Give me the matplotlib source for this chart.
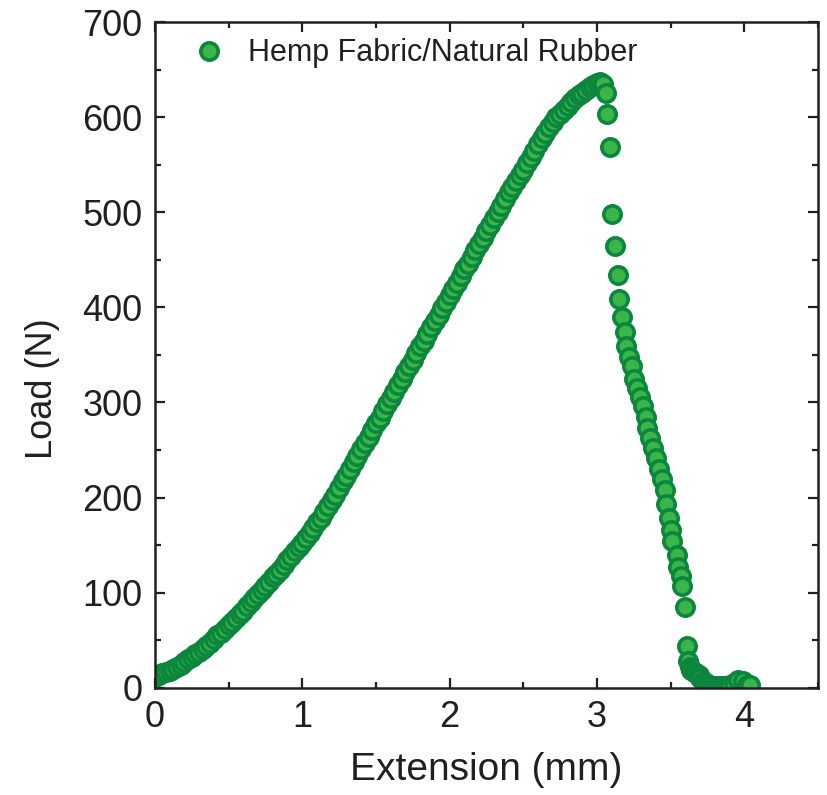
import numpy as np
import matplotlib.pyplot as plt
from matplotlib.ticker import MultipleLocator

plt.rcParams['font.family'] = ['Liberation Sans', 'DejaVu Sans']

# loading branch up to the peak load
ext_rise = [0.000, 0.025, 0.050, 0.075, 0.100, 0.125, 0.150, 0.175, 0.200, 0.225,
            0.250, 0.275, 0.300, 0.325, 0.350, 0.375, 0.400, 0.425, 0.450, 0.475,
            0.500, 0.525, 0.550, 0.575, 0.600, 0.625, 0.650, 0.675, 0.700, 0.725,
            0.750, 0.775, 0.800, 0.825, 0.850, 0.875, 0.900, 0.925, 0.950, 0.975,
            1.000, 1.025, 1.050, 1.075, 1.100, 1.125, 1.150, 1.175, 1.200, 1.225,
            1.250, 1.275, 1.300, 1.325, 1.350, 1.375, 1.400, 1.425, 1.450, 1.475,
            1.500, 1.525, 1.550, 1.575, 1.600, 1.625, 1.650, 1.675, 1.700, 1.725,
            1.750, 1.775, 1.800, 1.825, 1.850, 1.875, 1.900, 1.925, 1.950, 1.975,
            2.000, 2.025, 2.050, 2.075, 2.100, 2.125, 2.150, 2.175, 2.200, 2.225,
            2.250, 2.275, 2.300, 2.325, 2.350, 2.375, 2.400, 2.425, 2.450, 2.475,
            2.500, 2.525, 2.550, 2.575, 2.600, 2.625, 2.650, 2.675, 2.700, 2.725,
            2.750, 2.775, 2.800, 2.825, 2.850, 2.875, 2.900, 2.925, 2.950, 2.975,
            3.000, 3.020, 3.040]
load_rise = [11, 13, 15, 17, 18, 20, 22, 24, 27, 30,
             32, 35, 38, 41, 44, 47, 51, 55, 58, 62,
             66, 69, 73, 77, 81, 86, 90, 94, 99, 103,
             107, 111, 116, 120, 124, 129, 134, 139, 144, 148,
             152, 157, 163, 168, 174, 179, 185, 191, 197, 203,
             210, 217, 223, 230, 237, 244, 251, 257, 264, 271,
             278, 284, 291, 298, 305, 311, 318, 325, 332, 338,
             345, 352, 359, 365, 372, 379, 386, 392, 399, 406,
             413, 419, 426, 433, 440, 446, 453, 460, 467, 473,
             480, 487, 494, 500, 507, 514, 521, 527, 533, 539,
             545, 552, 558, 565, 572, 578, 584, 590, 595, 600,
             604, 608, 612, 616, 620, 623, 626, 629, 632, 634,
             636, 637, 635]

# failure branch after the peak
ext_fall = [3.06, 3.07, 3.09, 3.10, 3.12, 3.14, 3.15, 3.17, 3.19, 3.20,
            3.22, 3.24, 3.25, 3.27, 3.29, 3.31, 3.33, 3.34, 3.36, 3.38,
            3.40, 3.42, 3.44, 3.46, 3.47, 3.49, 3.50, 3.51, 3.54, 3.55,
            3.57, 3.58, 3.60, 3.61, 3.62, 3.63, 3.64, 3.66, 3.67, 3.69,
            3.70, 3.72, 3.74, 3.76, 3.78, 3.80, 3.82, 3.84, 3.86, 3.88,
            3.90, 3.93, 3.96, 3.99, 4.02, 4.04]
load_fall = [626, 604, 569, 498, 465, 434, 409, 390, 374, 359,
             348, 338, 325, 315, 306, 296, 285, 273, 263, 252,
             242, 230, 219, 208, 193, 178, 166, 154, 140, 127,
             117, 107, 85, 44, 28, 22, 19, 17, 15, 13,
             10, 7, 5, 3, 2, 2, 2, 2, 2, 2,
             3, 5, 8, 7, 3, 3]

extension = np.array(ext_rise + ext_fall)
load = np.array(load_rise + load_fall)

fig = plt.figure(figsize=(8.28, 7.95), dpi=100)
ax = fig.add_axes([0.187, 0.135, 0.801, 0.837])

ax.plot(extension, load, linestyle='none', marker='o', markersize=12.5,
        markerfacecolor='#3bb54a', markeredgecolor='#0a873c', markeredgewidth=2.6,
        label='Hemp Fabric/Natural Rubber')

ax.set_xlim(0, 4.5)
ax.set_ylim(0, 700)
ax.xaxis.set_major_locator(MultipleLocator(1))
ax.xaxis.set_minor_locator(MultipleLocator(0.5))
ax.yaxis.set_major_locator(MultipleLocator(100))
ax.yaxis.set_minor_locator(MultipleLocator(50))

ax.tick_params(which='both', direction='in', top=True, right=True, width=1.6,
               colors='#231f20')
ax.tick_params(which='major', length=7, labelsize=26, pad=9)
ax.tick_params(which='minor', length=4)
for sp in ax.spines.values():
    sp.set_linewidth(1.8)
    sp.set_color('#231f20')

ax.set_xlabel('Extension (mm)', fontsize=28, color='#231f20', labelpad=12)
ax.set_ylabel('Load (N)', fontsize=26, color='#231f20')
ax.yaxis.set_label_coords(-0.143, 0.45)

ax.legend(loc='upper left', bbox_to_anchor=(0.003, 1.008), frameon=False,
          fontsize=22, handletextpad=0.3, borderaxespad=0.3, labelcolor='#231f20')

fig.savefig('out.png', dpi=100)
